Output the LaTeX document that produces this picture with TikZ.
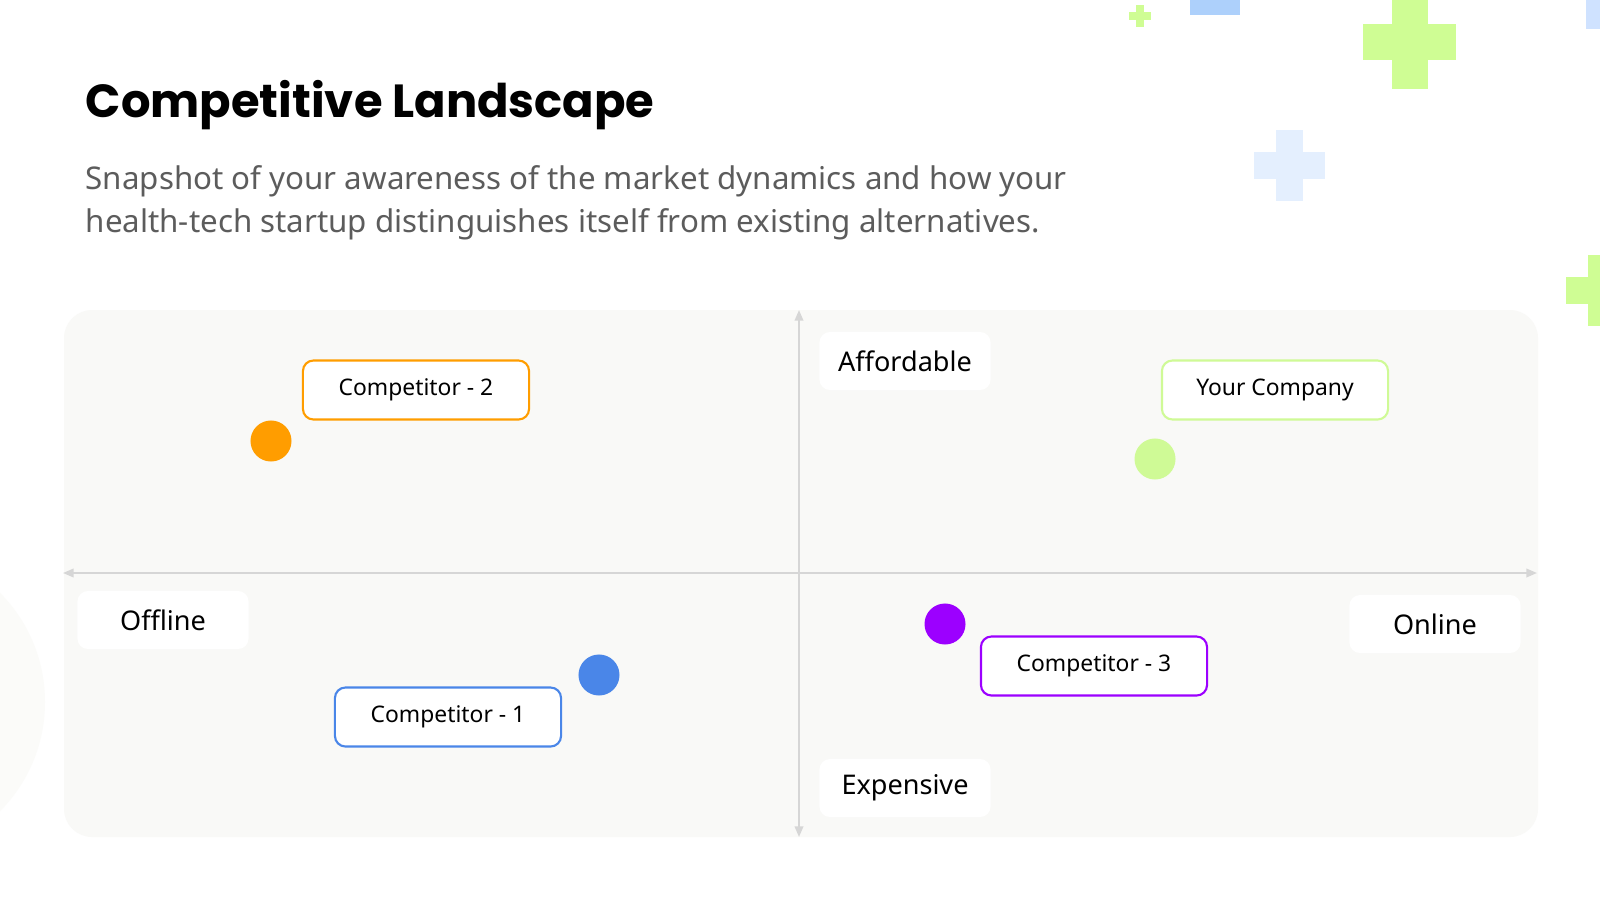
\documentclass[tikz,border=0pt]{standalone}
\usepackage{fontspec}
\setmainfont{Noto Sans}
\newfontfamily\headfont{Poppins}
\usepackage{tikz}
\usetikzlibrary{arrows.meta}

\definecolor{panelgray}{RGB}{249,249,247}
\definecolor{axisgray}{RGB}{214,214,214}
\definecolor{subgray}{RGB}{92,92,92}
\definecolor{compOrange}{RGB}{255,157,0}
\definecolor{compGreen}{RGB}{207,250,150}
\definecolor{compBlue}{RGB}{74,134,232}
\definecolor{compPurple}{RGB}{156,0,255}
\definecolor{plusGreen}{RGB}{207,253,148}
\definecolor{plusBlue}{RGB}{173,208,251}
\definecolor{plusPale}{RGB}{228,239,254}
\definecolor{plusSky}{RGB}{207,226,255}

\tikzset{
  compbox/.style={draw=#1, line width=0.6pt, fill=white, rounded corners=3pt,
    minimum width=2.26cm, minimum height=0.59cm, inner sep=0pt,
    font=\fontsize{6.5}{7.5}\selectfont},
  compdot/.style={circle, fill=#1, minimum size=0.41cm, inner sep=0pt},
  axislabel/.style={fill=white, rounded corners=3pt, minimum width=1.71cm,
    minimum height=0.58cm, inner sep=0pt, font=\fontsize{7.7}{9}\selectfont},
  axisline/.style={axisgray, line width=0.55pt,
    {Triangle[length=3pt,width=2.4pt]}-{Triangle[length=3pt,width=2.4pt]}}
}

\begin{document}
\begin{tikzpicture}[x=0.01cm, y=-0.01cm]
\useasboundingbox (0,0) rectangle (1600,900);
\clip (0,0) rectangle (1600,900);
\fill[white] (0,0) rectangle (1600,900);

%%% decorations

% circle on the left
\fill[panelgray!70] (-110,702) circle (155);

% plus signs
\fill[plusGreen] (1136,5) rectangle (1144,27);
\fill[plusGreen] (1129,12) rectangle (1151,20);
\fill[plusBlue] (1190,0) rectangle (1240,15);
\fill[plusGreen] (1392,-4) rectangle (1428,89);
\fill[plusGreen] (1363,24) rectangle (1456,60);
\fill[plusPale] (1276,130) rectangle (1303,201);
\fill[plusPale] (1254,152) rectangle (1325,179);
\fill[plusSky] (1586,0) rectangle (1610,29);
\fill[plusGreen] (1588,255) rectangle (1615,326);
\fill[plusGreen] (1566,277) rectangle (1637,304);

%%% heading

\node[anchor=base west, inner sep=0pt, font=\headfont\bfseries\fontsize{13.2}{15}\selectfont] (title) at (85,117) {Competitive Landscape};
\node[anchor=base west, inner sep=0pt, text=subgray, font=\fontsize{8.9}{10}\selectfont] (sub1) at (85,189) {Snapshot of your awareness of the market dynamics and how your};
\node[anchor=base west, inner sep=0pt, text=subgray, font=\fontsize{8.9}{10}\selectfont] (sub2) at (85,232) {health-tech startup distinguishes itself from existing alternatives.};

%%% panel

\fill[panelgray, rounded corners=8pt] (64,310) rectangle (1538,837);

% axes
\coordinate (top) at (799,310);
\coordinate (bottom) at (799,837);
\coordinate (left) at (63,573);
\coordinate (right) at (1537,573);
\draw[axisline] (bottom) -- (top);
\draw[axisline] (left) -- (right);

% axis labels
\node[axislabel] (affordable) at (905,361) {Affordable};
\node[axislabel] (expensive) at (905,788) {Expensive};
\node[axislabel] (offline) at (163,620) {Offline};
\node[axislabel] (online) at (1435,624) {Online};

%%% competitors

\node[compbox=compOrange] (comp2) at (416,390) {Competitor - 2};
\node[compdot=compOrange] (dot2) at (271,441) {};

\node[compbox=compGreen] (yours) at (1275,390) {Your Company};
\node[compdot=compGreen] (dotyours) at (1155,459) {};

\node[compbox=compBlue] (comp1) at (448,717) {Competitor - 1};
\node[compdot=compBlue] (dot1) at (599,675) {};

\node[compbox=compPurple] (comp3) at (1094,666) {Competitor - 3};
\node[compdot=compPurple] (dot3) at (945,624) {};

\end{tikzpicture}
\end{document}
